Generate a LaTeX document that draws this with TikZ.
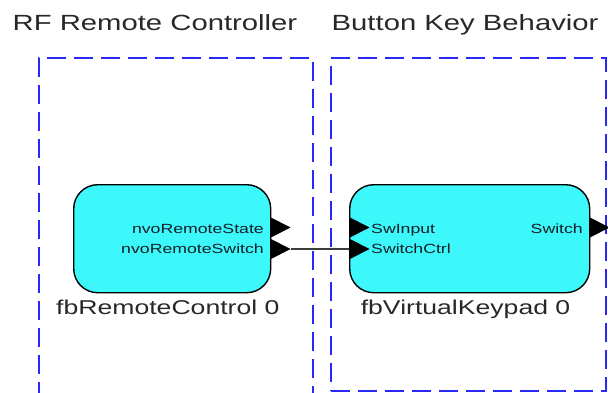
\documentclass[tikz,border=0pt]{standalone}
\usepackage{fontspec}
\setmainfont{Liberation Sans}[FakeStretch=1.33]
\definecolor{dashblue}{RGB}{40,40,250}
\definecolor{fbcyan}{RGB}{60,248,250}
\definecolor{txtgray}{RGB}{40,40,40}
\definecolor{porttxt}{RGB}{20,30,40}
\definecolor{wiregray}{RGB}{60,60,60}
\tikzset{
  group/.style={draw=dashblue, line width=2pt, dash pattern=on 19pt off 8pt, inner sep=0, anchor=north west},
  fblock/.style={draw=black, line width=1.4pt, fill=fbcyan, rounded corners=24pt, inner sep=0, anchor=north west},
  heading/.style={font=\fontsize{22}{26}\selectfont, text=txtgray, inner sep=0, anchor=base west},
  fblabel/.style={font=\fontsize{20}{24}\selectfont, text=txtgray, inner sep=0, anchor=base west},
  porttext/.style={font=\fontsize{13.3}{16}\selectfont, text=porttxt, inner sep=0},
  wire/.style={draw=wiregray, line width=1.8pt},
  porttri/.pic={\fill[black] (0,-10.5) -- (20.5,0) -- (0,10.5) -- cycle;}
}
\begin{document}
\begin{tikzpicture}[x=1pt,y=-1pt]
\useasboundingbox (0,0) rectangle (608,392);
\clip (0,0) rectangle (608,392);
% group boxes
\node[group, minimum width=274pt, minimum height=370pt] (g1) at (37.5,57) {};
\node[group, minimum width=275pt, minimum height=333pt] (g2) at (330,57) {};
% headings
\node[heading] (h1) at (12.5,30.7) {RF Remote Controller};
\node[heading] (h2) at (331.5,30.7) {Button Key Behavior};
% blocks
\node[fblock, minimum width=197pt, minimum height=108pt] (rc) at (73,184) {};
\node[fblock, minimum width=240pt, minimum height=108pt] (vk) at (349,184) {};
% port coordinates
\coordinate (rs) at (270,227.5);
\coordinate (rw) at (270,249);
\coordinate (rwtip) at (290.5,249);
\coordinate (ki) at (349,227.5);
\coordinate (kc) at (349,249);
\coordinate (ko) at (589,227.5);
% connector
\draw[wire] (rwtip) -- (kc);
% port triangles
\pic (prs) at (rs) {porttri};
\pic (prw) at (rw) {porttri};
\pic (pki) at (ki) {porttri};
\pic (pkc) at (kc) {porttri};
\pic (pko) at (ko) {porttri};
% port texts
\node[porttext, anchor=base east] (t1) at (264,233) {nvoRemoteState};
\node[porttext, anchor=base east] (t2) at (264,253) {nvoRemoteSwitch};
\node[porttext, anchor=base west] (t3) at (371,233) {SwInput};
\node[porttext, anchor=base west] (t4) at (371,253) {SwitchCtrl};
\node[porttext, anchor=base east] (t5) at (583,233) {Switch};
% block labels
\node[fblabel] (l1) at (56,314.3) {fbRemoteControl 0};
\node[fblabel] (l2) at (360.6,314.3) {fbVirtualKeypad 0};
\end{tikzpicture}
\end{document}
